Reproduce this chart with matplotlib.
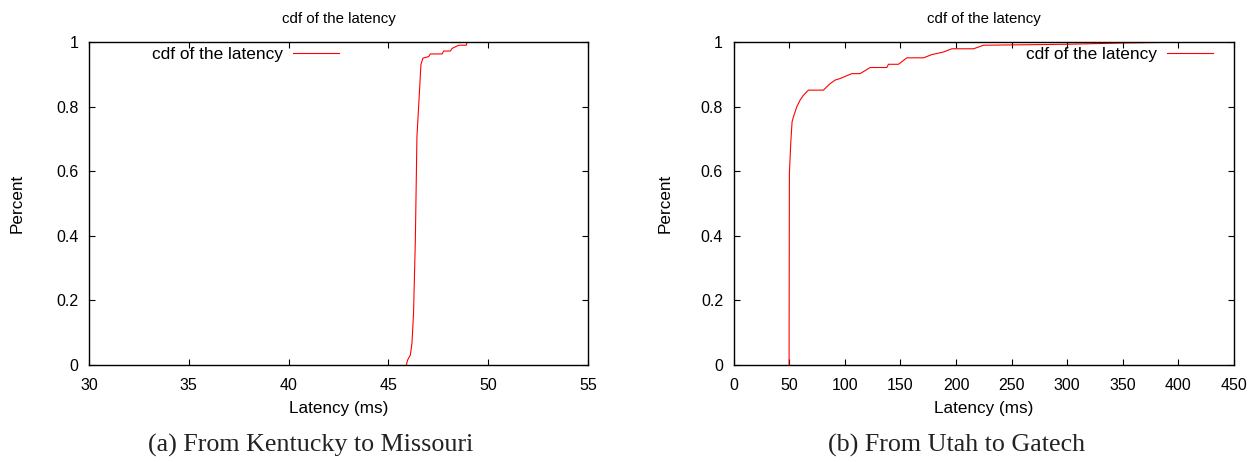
import matplotlib
matplotlib.use("Agg")
import matplotlib.pyplot as plt

# Data: (a) Kentucky -> Missouri
lat_a = [45.90, 45.96, 46.10, 46.18, 46.26, 46.35, 46.43, 46.55, 46.63, 46.73, 47.02,
         47.10, 47.69, 47.77, 48.10, 48.19, 48.52, 48.90, 48.95]
cdf_a = [0.0, 0.015, 0.031, 0.067, 0.16, 0.387, 0.707, 0.84, 0.93, 0.95, 0.955,
         0.963, 0.963, 0.972, 0.972, 0.98, 0.99, 0.99, 1.0]

# Data: (b) Utah -> Gatech
lat_b = [49.8, 50.1, 51.3, 52.5, 53.7, 56.7, 59.7, 62.7, 67.2, 80.7, 86.7, 91.2, 95.7,
         106.2, 113.7, 122.7, 137.7, 139.2, 148.2, 155.7, 170.7, 178.2, 188.7, 196.2,
         215.7, 224.7, 299.6, 350.6, 392.6, 430.0]
cdf_b = [0.0, 0.593, 0.686, 0.753, 0.768, 0.799, 0.82, 0.835, 0.851, 0.851, 0.871, 0.882,
         0.887, 0.902, 0.902, 0.921, 0.921, 0.931, 0.931, 0.951, 0.951, 0.961, 0.969, 0.979,
         0.979, 0.990, 0.993, 0.997, 0.999, 1.0]

xticks_a = [30, 35, 40, 45, 50, 55]
xticks_b = [0, 50, 100, 150, 200, 250, 300, 350, 400, 450]
yticks = [0, 0.2, 0.4, 0.6, 0.8, 1]
ytick_labels = ["0", "0.2", "0.4", "0.6", "0.8", "1"]
captions = ["(a) From Kentucky to Missouri", "(b) From Utah to Gatech"]

plt.rcParams['font.family'] = ['Liberation Sans', 'DejaVu Sans']

W, H = 1256, 462
fig = plt.figure(figsize=(W / 100, H / 100), dpi=100)

def px_axes(x0, x1, y0, y1):
    return fig.add_axes([x0 / W, 1 - y1 / H, (x1 - x0) / W, (y1 - y0) / H])

ax_a = px_axes(89, 588, 42, 365)
ax_b = px_axes(733.7, 1234, 42, 365)

# (axes, x, y, xticks, xlim, legend right edge frac, ylabel x px, caption center px)
specs = [
    (ax_a, lat_a, cdf_a, xticks_a, (30, 55), 0.501, 17, 311),
    (ax_b, lat_b, cdf_b, xticks_b, (0, 450), 0.958, 665, 957),
]

for (ax, x, y, xt, xl, legx, ylx, capx), cap in zip(specs, captions):
    ax.plot(x, y, color='#ff0000', lw=0.8, label='cdf of the latency')
    ax.set_xlim(*xl)
    ax.set_ylim(0, 1)
    ax.set_xticks(xt)
    ax.set_xticklabels([str(v) for v in xt])
    ax.set_yticks(yticks)
    ax.set_yticklabels(ytick_labels)
    ax.tick_params(direction='in', length=4, width=0.8, top=True, right=True,
                   labelsize=11.5, colors='black')
    ax.tick_params(axis='x', pad=9.2)
    ax.tick_params(axis='y', pad=7.7)
    for s in ax.spines.values():
        s.set_linewidth(1.0)
    ax.set_title('cdf of the latency', fontsize=10.8, pad=14)
    ax.set_xlabel('Latency (ms)', fontsize=12.3, va='center')
    ax.xaxis.set_label_coords(0.5, (365 - 409) / 323)
    x0 = ax.get_position().x0 * W
    w = ax.get_position().width * W
    ax.set_ylabel('Percent', fontsize=12.3, va='center')
    ax.yaxis.set_label_coords((ylx - x0) / w, 0.5)
    ax.legend(loc='center right', bbox_to_anchor=(legx, 0.96), frameon=False,
              markerfirst=False, fontsize=12.4, handlelength=2.65,
              handletextpad=0.63, borderpad=0, borderaxespad=0)
    fig.text(capx / W, 1 - 451.7 / H, cap, ha='center', va='baseline', fontsize=18.7,
             family=['Liberation Serif', 'DejaVu Serif'], color='#222222')

fig.savefig('out.png', dpi=100)
